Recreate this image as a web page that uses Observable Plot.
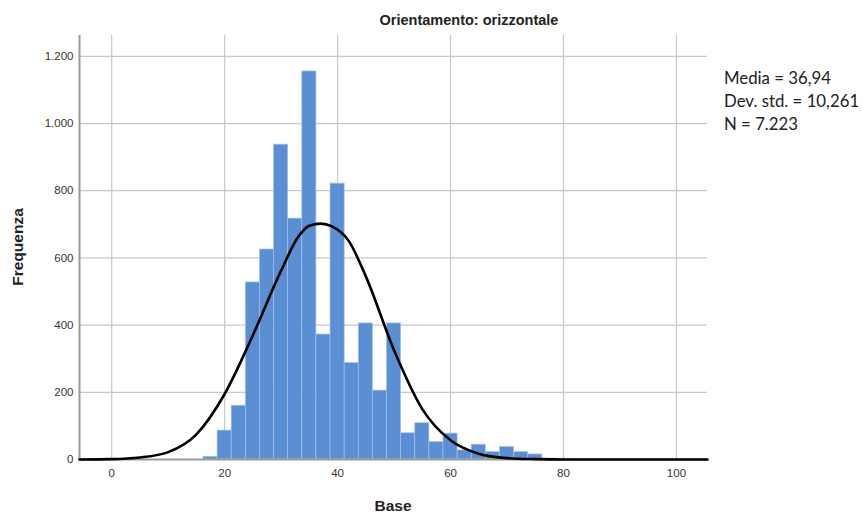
<!DOCTYPE html>
<html>
<head>
<meta charset="utf-8">
<script src="https://cdn.jsdelivr.net/npm/d3@7"></script>
<script src="https://cdn.jsdelivr.net/npm/@observablehq/plot@0.6"></script>
<style>
  html, body { margin: 0; padding: 0; background: #fff; }
  #wrap { position: relative; width: 863px; height: 513px; overflow: hidden; }
  #title { position: absolute; left: 0; width: 938px; top: 12px; text-align: center;
           font: bold 14.5px "Liberation Sans", Arial, sans-serif; color: #222; }
  #ylab { position: absolute; left: 18px; top: 247px; transform: translate(-50%, -50%) rotate(-90deg);
          font: bold 15.5px "Liberation Sans", Arial, sans-serif; color: #222; white-space: nowrap; }
  #xlab { position: absolute; left: 393px; top: 497px; transform: translateX(-50%);
          font: bold 15.5px "Liberation Sans", Arial, sans-serif; color: #222; }
  #legend { position: absolute; left: 724px; top: 66px; font: 16.8px Lato, "Liberation Sans", sans-serif;
            color: #222; line-height: 23px; white-space: nowrap; }
  svg text { font-family: "Liberation Sans", Arial, sans-serif; }
</style>
</head>
<body>
<div id="wrap"></div>
<script>
// ---- data ----
const titleText = "Orientamento: orizzontale";
const xLabel = "Base";
const yLabel = "Frequenza";
const legendLines = ["Media = 36,94", "Dev. std. = 10,261", "N = 7.223"];

const binWidth = 2.5;
const binCenters = [17.5, 20, 22.5, 25, 27.5, 30, 32.5, 35, 37.5, 40, 42.5, 45, 47.5, 50,
                    52.5, 55, 57.5, 60, 62.5, 65, 67.5, 70, 72.5, 75, 77.5, 80];
const binCounts  = [8, 86, 160, 527, 625, 937, 717, 1155, 372, 821, 287, 405, 205, 405,
                    78, 108, 52, 77, 27, 44, 22, 37, 22, 15, 3, 2];

// normal curve, points
const curveX = [-5.7, 0, 5, 10, 15, 20, 25, 30, 33, 35, 37, 39, 42, 45, 50, 55, 60, 65, 70, 75, 80, 90, 105.5];
const curveY = [0, 1, 6, 22, 75, 195, 370, 562, 662, 696, 702, 694, 650, 545, 325, 150, 57, 17, 4, 1, 0, 0, 0];

const xTicks = [0, 20, 40, 60, 80, 100];
const yTicks = [0, 200, 400, 600, 800, 1000, 1200];
const xDomain = [-5.7, 105.5];
const yDomain = [0, 1262];

// ---- build ----
const bars = binCenters.map((c, i) => ({x1: c - binWidth / 2, x2: c + binWidth / 2, y: binCounts[i]}));
const curve = curveX.map((x, i) => ({x, y: curveY[i]}));
const itFormat = d3.formatLocale({decimal: ",", thousands: ".", grouping: [3], currency: ["", "€"]}).format(",");

const chart = Plot.plot({
  width: 863,
  height: 513,
  marginLeft: 79,
  marginRight: 156,
  marginTop: 35,
  marginBottom: 54,
  style: {background: "transparent", fontSize: "11.5px", color: "#333"},
  x: {domain: xDomain, ticks: xTicks, tickSize: 0, tickPadding: 9, label: null},
  y: {domain: yDomain, ticks: yTicks, tickSize: 0, tickPadding: 6, tickFormat: itFormat, label: null},
  marks: [
    Plot.ruleX(xTicks, {stroke: "#c8c8c8", strokeWidth: 1.2}),
    Plot.ruleY(yTicks.filter(d => d > 0), {stroke: "#c8c8c8", strokeWidth: 1.2}),
    Plot.rectY(bars, {x1: "x1", x2: "x2", y: "y", fill: "#5a8fd4", stroke: "#a3c1ea", strokeWidth: 0.7}),
    Plot.ruleX([xDomain[0]], {stroke: "#9a9a9a", strokeWidth: 2}),
    Plot.ruleY([0], {stroke: "#9a9a9a", strokeWidth: 2}),
    Plot.line(curve, {x: "x", y: "y", curve: "monotone-x", stroke: "#000", strokeWidth: 2.6})
  ]
});

const wrap = document.getElementById("wrap");
wrap.appendChild(chart);

const t = document.createElement("div"); t.id = "title"; t.textContent = titleText; wrap.appendChild(t);
const yl = document.createElement("div"); yl.id = "ylab"; yl.textContent = yLabel; wrap.appendChild(yl);
const xl = document.createElement("div"); xl.id = "xlab"; xl.textContent = xLabel; wrap.appendChild(xl);
const lg = document.createElement("div"); lg.id = "legend";
legendLines.forEach(s => { const d = document.createElement("div"); d.textContent = s; lg.appendChild(d); });
wrap.appendChild(lg);
</script>
</body>
</html>
